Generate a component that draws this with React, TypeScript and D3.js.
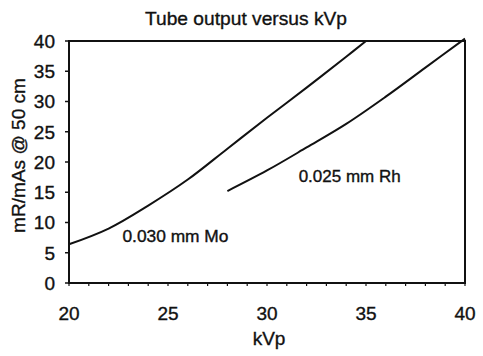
import React from "react";
import * as d3 from "d3";

const kvpMo = [20, 22, 24, 26, 28, 30, 32, 34, 35];
const outputMo = [6.4, 9.0, 12.8, 17.1, 22.2, 27.3, 32.3, 37.4, 40];
const kvpRh = [28, 30, 32, 34, 36, 38, 40];
const outputRh = [15.2, 18.6, 22.4, 26.3, 30.8, 35.6, 40.4];
const xTickLabels = [20, 25, 30, 35, 40];
const yTickLabels = [0, 5, 10, 15, 20, 25, 30, 35, 40];
const labelMo = "0.030 mm Mo";
const labelRh = "0.025 mm Rh";
const titleText = "Tube output versus kVp";
const xTitle = "kVp";
const yTitle = "mR/mAs @ 50 cm";

const W = 483;
const H = 356;
const left = 69, right = 465, top = 41, bottom = 283;

export default function App() {
  const x = d3.scaleLinear().domain([20, 40]).range([left, right]);
  const y = d3.scaleLinear().domain([0, 40]).range([bottom, top]);
  const line = d3
    .line<[number, number]>()
    .x((d) => x(d[0]))
    .y((d) => y(d[1]))
    .curve(d3.curveCatmullRom.alpha(0.5));
  const moPts = kvpMo.map((k, i) => [k, outputMo[i]] as [number, number]);
  const rhPts = kvpRh.map((k, i) => [k, outputRh[i]] as [number, number]);
  const minor = d3.range(20, 41, 1);
  const font = "'Liberation Sans', Arial, sans-serif";
  const ts = { fill: "#111", stroke: "#111", strokeWidth: 0.35 };
  return (
    <svg
      width={W}
      height={H}
      style={{ position: "absolute", left: 0, top: 0, background: "#fff" }}
      fontFamily={font}
    >
      <rect x={0} y={0} width={W} height={H} fill="#fff" />
      <text x={246} y={25} textAnchor="middle" fontSize={19} textLength={202} lengthAdjust="spacingAndGlyphs" {...ts}>
        {titleText}
      </text>
      <rect x={left} y={top} width={right - left} height={bottom - top} fill="none" stroke="#111" strokeWidth={2} />
      {yTickLabels.map((v) => (
        <g key={"y" + v}>
          <line x1={left - 4} x2={left} y1={y(v)} y2={y(v)} stroke="#111" strokeWidth={1.5} />
          <text x={55} y={y(v)} dy="0.36em" textAnchor="end" fontSize={19} {...ts}>
            {v}
          </text>
        </g>
      ))}
      {minor.map((v) => (
        <line key={"xt" + v} x1={x(v)} x2={x(v)} y1={bottom} y2={bottom + 3} stroke="#111" strokeWidth={1.2} />
      ))}
      {xTickLabels.map((v) => (
        <text key={"x" + v} x={x(v)} y={320} textAnchor="middle" fontSize={19} {...ts}>
          {v}
        </text>
      ))}
      <text x={269} y={345} textAnchor="middle" fontSize={19} {...ts}>
        {xTitle}
      </text>
      <text
        transform={`translate(25,155.5) rotate(-90)`}
        textAnchor="middle"
        fontSize={18.5}
        textLength={155}
        lengthAdjust="spacingAndGlyphs"
        {...ts}
      >
        {yTitle}
      </text>
      <path d={line(moPts) || ""} fill="none" stroke="#111" strokeWidth={2} />
      <path d={line(rhPts) || ""} fill="none" stroke="#111" strokeWidth={2} />
      <text x={x(22.7)} y={y(6.8)} fontSize={16} textLength={106} lengthAdjust="spacingAndGlyphs" {...ts}>
        {labelMo}
      </text>
      <text x={x(31.6)} y={y(16.7)} fontSize={16} textLength={102} lengthAdjust="spacingAndGlyphs" {...ts}>
        {labelRh}
      </text>
    </svg>
  );
}
